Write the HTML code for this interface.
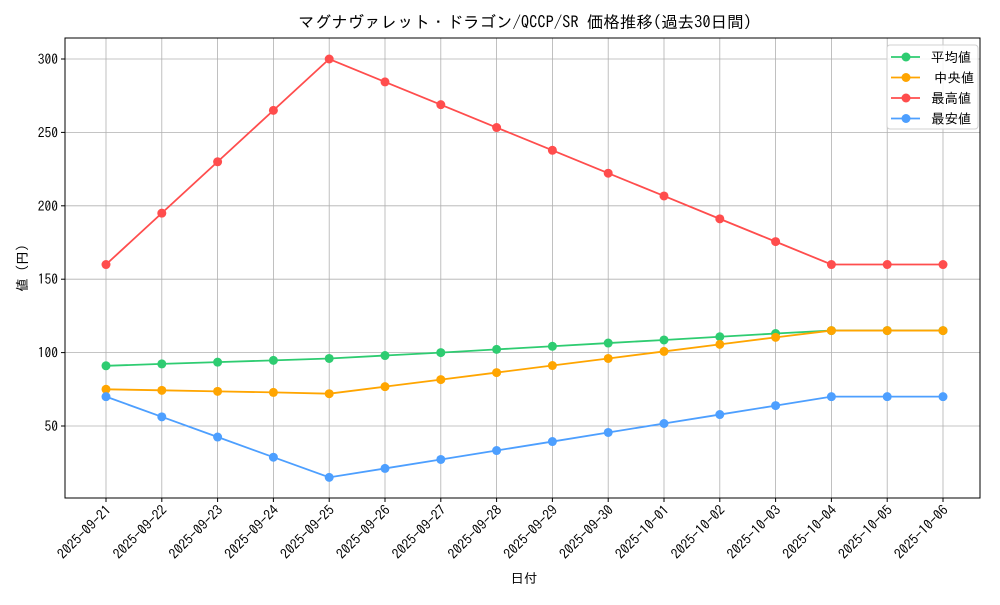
<!DOCTYPE html>
<html><head><meta charset="utf-8"><style>
body{margin:0;background:#fff;}
svg text{font-family:"IPAGothic","Liberation Sans",sans-serif;font-size:13.5px;fill:#000;}
</style></head><body>
<svg id="s" width="1000" height="600" xmlns="http://www.w3.org/2000/svg"></svg>
<script>
const s=document.getElementById('s');
const L=65,R=980,T=38,B=498;
const X=i=>106+i*55.8, Y=v=>59+(300-v)*1.468;
let h='';
const dates=['2025-09-21','2025-09-22','2025-09-23','2025-09-24','2025-09-25','2025-09-26','2025-09-27','2025-09-28','2025-09-29','2025-09-30','2025-10-01','2025-10-02','2025-10-03','2025-10-04','2025-10-05','2025-10-06'];
dates.forEach((d,i)=>{const x=X(i);h+=`<line x1="${x}" y1="${T}" x2="${x}" y2="${B}" stroke="#b0b0b0" stroke-width="0.8"/>`;
h+=`<line x1="${x}" y1="${B}" x2="${x}" y2="${B+4}" stroke="#000"/>`;
h+=`<text transform="translate(${x+6},${B+13}) rotate(-45)" text-anchor="end" style="font-size:13.8px">${d}</text>`;});
[50,100,150,200,250,300].forEach(v=>{const y=Y(v);h+=`<line x1="${L}" y1="${y}" x2="${R}" y2="${y}" stroke="#b0b0b0" stroke-width="0.8"/>`;
h+=`<line x1="${L-4}" y1="${y}" x2="${L}" y2="${y}" stroke="#000"/>`;
h+=`<text x="${L-7}" y="${y+5}" text-anchor="end">${v}</text>`;});
const ser=[
['#2ecc71',[91,92.3,93.5,94.7,96,98,100,102.2,104.3,106.5,108.6,110.8,113,115,115,115]],
['#ffa500',[75,74.3,73.6,72.9,72,76.8,81.6,86.4,91.2,96,100.8,105.6,110.4,115,115,115]],
['#ff4d4d',[160,195,230,265,300,284.4,268.9,253.3,237.8,222.2,206.7,191.1,175.6,160,160,160]],
['#4d9fff',[70,56.25,42.5,28.75,15,21.1,27.2,33.3,39.4,45.6,51.7,57.8,63.9,70,70,70]]];
ser.forEach(([c,d])=>{h+=`<polyline fill="none" stroke="${c}" stroke-width="1.8" points="${d.map((v,i)=>X(i)+','+Y(v)).join(' ')}"/>`;
d.forEach((v,i)=>h+=`<circle cx="${X(i)}" cy="${Y(v)}" r="4.5" fill="${c}"/>`);});
h+=`<rect x="${L}" y="${T}" width="${R-L}" height="${B-T}" fill="none" stroke="#000" stroke-width="1"/>`;
h+=`<rect x="887" y="45" width="91" height="84" rx="3" fill="#fff" fill-opacity="0.85" stroke="#d0d0d0"/>`;
['平均値','中央値','最高値','最安値'].forEach((t,i)=>{const y=57+i*20.5,c=ser[i][0];
h+=`<line x1="891" y1="${y}" x2="920" y2="${y}" stroke="${c}" stroke-width="1.8"/><circle cx="906" cy="${y}" r="4.5" fill="${c}"/>`;
h+=`<text x="${i==1?934:931}" y="${y+5}">${t}</text>`;});
h+=`<text x="525" y="28" text-anchor="middle" style="font-size:16.5px">マグナヴァレット・ドラゴン/QCCP/SR 価格推移(過去30日間)</text>`;
h+=`<text x="524" y="583" text-anchor="middle">日付</text>`;
h+=`<text transform="translate(27,268) rotate(-90)" text-anchor="middle">値 (円)</text>`;
s.innerHTML=h;
</script>
</body></html>
